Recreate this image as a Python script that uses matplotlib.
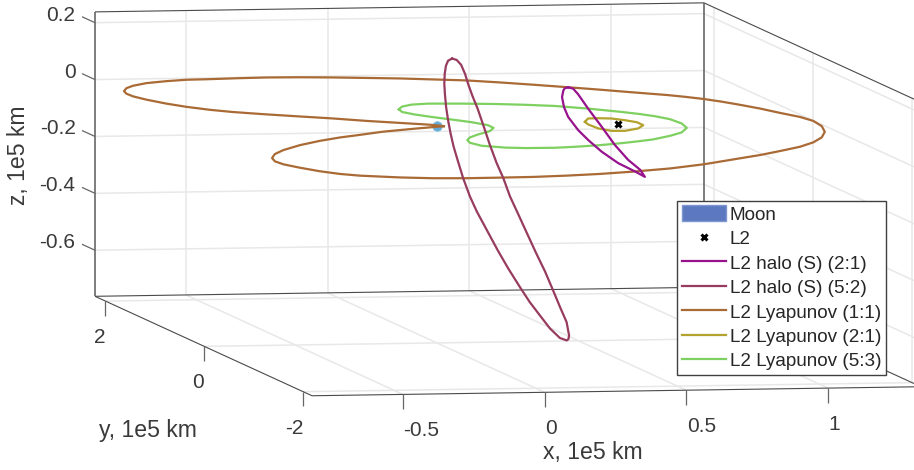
import matplotlib
matplotlib.use('Agg')
import matplotlib.pyplot as plt
from matplotlib.patches import Patch
from mpl_toolkits.mplot3d import proj3d

plt.rcParams['font.family'] = ['Liberation Sans', 'DejaVu Sans']

# all in 1e5 km, moon at the origin
moon = (0, 0, 0)
l2 = (0.64, 0, 0)

halo21_x = [.463,.456,.455,.459,.478,.505,.551,.588,.630,.675,.713,.734,.703,.640,.574,.533,.499,.481,.474,.463]
halo21_y = [0,.025,.05,.1,.17,.24,.3,.31,.28,.2,.08,0,-.08,-.2,-.31,-.28,-.2,-.1,-.04,0]
halo21_z = [0.13,0.125,0.115,0.088,0.047,0.006,-0.046,-0.082,-0.121,-0.156,-0.176,-0.189,-0.157,-0.112,-0.05,0.012,0.07,0.113,0.128,0.13]

halo52_x = [.054,.050,.051,.059,.068,.077,.090,.104,.118,.134,.153,.178,.207,.233,.271,.310,.342,.377,.401,.423,.441,.453,.458,.459,.449,.414,.370,.326,.291,.255,.221,.195,.169,.149,.131,.114,.099,.086,.076,.070,.068,.066,.061,.054]
halo52_y = [0,.06,.11,.18,.24,.28,.33,.37,.4,.43,.46,.49,.52,.53,.55,.54,.52,.48,.42,.34,.24,.11,0,-.03,-.1,-.25,-.37,-.47,-.52,-.54,-.55,-.53,-.51,-.49,-.46,-.42,-.37,-.33,-.28,-.23,-.18,-.11,-.05,0]
halo52_z = [.237,.225,.203,.169,.129,.091,.040,-.010,-.059,-.108,-.157,-.224,-.291,-.345,-.411,-.486,-.546,-.610,-.658,-.699,-.737,-.760,-.760,-.753,-.734,-.675,-.612,-.540,-.474,-.405,-.334,-.271,-.209,-.146,-.096,-.035,.032,.087,.129,.166,.197,.224,.236,.237]

# lyapunov orbits stay in the z=0 plane
lyap11_x = [0.024,-0.013,-0.102,-0.2,-0.298,-0.396,-0.499,-0.592,-0.654,-0.712,-0.756,-0.795,-0.816,-0.819,-0.808,-0.777,-0.737,-0.672,-0.589,-0.51,-0.426,-0.316,
            -0.218,-0.104,0.007,0.12,0.229,0.335,0.442,0.541,0.637,0.732,0.829,0.922,1.019,1.067,1.115,1.157,1.195,1.236,1.272,1.31,1.326,1.316,1.284,1.232,1.166,1.088,0.988,0.89,0.797,0.629,0.482,0.332,0.202,0.075,-0.05,-0.168,-0.288,-0.401,-0.508,-0.632,-0.687,-0.736,-0.778,-0.809,-0.816,-0.801,-0.762,-0.703,-0.609,-0.509,-0.415,-0.328,-0.225,-0.085,0.024]
lyap11_y = [-0.004,0.068,0.164,0.269,0.397,0.503,0.618,0.736,0.845,0.987,1.136,1.318,1.467,1.586,1.698,1.824,1.922,2.025,2.097,2.144,2.155,2.179,2.191,2.179,2.15,2.107,2.065,2.002,1.938,1.832,1.714,1.591,1.459,1.323,1.187,1.099,0.993,0.867,0.724,0.55,0.35,0.167,-0.011,-0.242,-0.486,-0.723,-0.93,-1.109,-1.279,-1.437,-1.565,-1.797,-1.955,-2.067,-2.144,-2.196,-2.23,-2.239,-2.243,-2.222,-2.168,-2.066,-1.981,-1.853,-1.688,-1.533,-1.4,-1.257,-1.089,-0.924,-0.722,-0.552,-0.42,-0.322,-0.2,-0.085,-0.004]

lyap21_x = [.538,.574,.611,.654,.687,.713,.713,.671,.608,.562,.535,.530,.538]
lyap21_y = [.090,.233,.239,.218,.137,.044,-.087,-.225,-.318,-.310,-.199,-.023,.090]

lyap53_x = [-.004,.027,.074,.138,.252,.363,.460,.554,.647,.738,.784,.820,.849,.857,.842,.790,.725,.641,.583,.527,.478,.409,.319,.243,.141,.074,.045,.007,-.011,0,.029,.079,.144,.181,.182,.149,.100,.051,.012,-.013,-.004]
lyap53_y = [.747,.860,.939,.971,.950,.913,.860,.790,.658,.492,.391,.288,.151,-.039,-.229,-.422,-.560,-.702,-.766,-.821,-.865,-.918,-.968,-.997,-.992,-.958,-.917,-.866,-.731,-.615,-.502,-.379,-.246,-.108,.011,.148,.276,.399,.512,.630,.747]

x_ticks = [-0.5, 0, 0.5, 1]
y_ticks = [-2, 0, 2]
z_ticks = [-0.6, -0.4, -0.2, 0, 0.2]
x_lim = (-0.821, 1.328)
y_lim = (-2.18, 2.21)
z_lim = (-0.762, 0.238)

TEXT = '#3a3a3a'
EDGE = '#4a4a4a'
GRID = '#e8e8e8'
LW = 1.6

fig = plt.figure(figsize=(9.14, 4.70), dpi=100)
ax = fig.add_subplot(projection='3d', computed_zorder=False, proj_type='ortho')
ax.set_axis_off()
ax.view_init(elev=4.73, azim=259.8)
ax.set_box_aspect((619, 1226, 285.5))
ax.set_xlim(*x_lim)
ax.set_ylim(*y_lim)
ax.set_zlim(*z_lim)
x0, x1 = x_lim
y0, y1 = y_lim
z0, z1 = z_lim


def to_pixels(x, y, z):
    xs, ys, _ = proj3d.proj_transform(x, y, z, ax.get_proj())
    return ax.transData.transform((xs, ys))


# fit the box onto the same pixels as the picture (front right corner is cut off)
size = 800.0
ax.set_position([0, 0, size / 914, size / 470])
ax.apply_aspect()
a = to_pixels(x0, y1, z0)
b = to_pixels(x1, y0, z0)
size *= (921 - 95) / (b[0] - a[0])
ax.set_position([0, 0, size / 914, size / 470])
ax.apply_aspect()
a = to_pixels(x0, y1, z0)
ax.set_position([(95 - a[0]) / 914, (470 - 296.3 - a[1]) / 470, size / 914, size / 470])
ax.apply_aspect()


def seg(xs, ys, zs, color=GRID, lw=1.1, z=1):
    ax.plot(xs, ys, zs, color=color, lw=lw, zorder=z, solid_capstyle='butt')


def label_at(x, y, z, s, dx, dy, ha):
    # dx, dy are pixels away from the projected point (dy downwards)
    p = to_pixels(x, y, z)
    fig.text((p[0] + dx) / 914, (p[1] - dy) / 470, s, ha=ha, va='center', fontsize=15, color=TEXT)


# grid on the three back walls
for t in x_ticks:
    seg([t, t], [y1, y1], [z0, z1])
    seg([t, t], [y0, y1], [z0, z0])
for t in y_ticks:
    seg([x0, x1], [t, t], [z0, z0])
    seg([x1, x1], [t, t], [z0, z1])
for t in z_ticks:
    seg([x0, x1], [y1, y1], [t, t])
    seg([x1, x1], [y0, y1], [t, t])

# box edges
seg([x0, x1], [y1, y1], [z1, z1], EDGE, 0.8, 2)
seg([x0, x1], [y1, y1], [z0, z0], EDGE, 0.8, 2)
seg([x0, x1], [y0, y0], [z0, z0], EDGE, 0.8, 2)
seg([x0, x0], [y0, y1], [z0, z0], EDGE, 0.8, 2)
seg([x1, x1], [y0, y1], [z1, z1], EDGE, 0.8, 2)
seg([x1, x1], [y0, y1], [z0, z0], EDGE, 0.8, 2)
seg([x0, x0], [y1, y1], [z0, z1], '#5a5a5a', 1.1, 2)
seg([x1, x1], [y1, y1], [z0, z1], '#5a5a5a', 1.1, 2)

# ticks and their labels
for t in x_ticks:
    seg([t, t], [y0, y0], [z0, z0 - 0.052], '#666666', 0.9, 2)
    label_at(t, y0, z0, f'{t:g}', 0.5, 36.5, 'left')
for t in y_ticks:
    seg([x0, x0], [t, t], [z0, z0 - 0.052], '#666666', 0.9, 2)
    label_at(x0, t, z0, f'{t:g}', 0, 36.5, 'right')
for t in z_ticks:
    seg([x0, x0], [y1, y1 + 0.263], [t, t], '#666666', 0.9, 2)
    label_at(x0, y1, t, f'{t:g}', -19.5, -7.5, 'right')

fig.text(18.5 / 914, 1 - 155 / 470, 'z, 1e5 km', rotation=90, ha='center', va='center', fontsize=16.6, color=TEXT)
fig.text(148 / 914, 1 - 431 / 470, 'y, 1e5 km', ha='center', va='center', fontsize=16.6, color=TEXT)
fig.text(592.7 / 914, 1 - 453 / 470, 'x, 1e5 km', ha='center', va='center', fontsize=16.6, color=TEXT)

# data
ax.plot([moon[0]], [moon[1]], [moon[2]], 'o', ms=7, color='#62abd6', mec='#8cc4e0', mew=0.5, zorder=3)
h_l2, = ax.plot([l2[0]], [l2[1]], [l2[2]], 'x', ms=4.5, mew=2.2, color='black', zorder=4, label='L2')
zeros11 = [0] * len(lyap11_x)
zeros21 = [0] * len(lyap21_x)
zeros53 = [0] * len(lyap53_x)
h1, = ax.plot(halo21_x, halo21_y, halo21_z, color='#97128c', lw=LW, zorder=3.5, label='L2 halo (S) (2:1)')
h2, = ax.plot(halo52_x, halo52_y, halo52_z, color='#973c5e', lw=LW, zorder=3.5, label='L2 halo (S) (5:2)')
h3, = ax.plot(lyap11_x, lyap11_y, zeros11, color='#a96a35', lw=LW, zorder=3.4, label='L2 Lyapunov (1:1)')
h4, = ax.plot(lyap21_x, lyap21_y, zeros21, color='#b3a22d', lw=LW, zorder=3.4, label='L2 Lyapunov (2:1)')
h5, = ax.plot(lyap53_x, lyap53_y, zeros53, color='#7ed060', lw=LW, zorder=3.3, label='L2 Lyapunov (5:3)')

moon_patch = Patch(facecolor='#5b78c0', edgecolor='#7f97d0', label='Moon')
leg = ax.legend(handles=[moon_patch, h_l2, h1, h2, h3, h4, h5], loc='upper left',
                bbox_to_anchor=(677.3 / 914, 1 - 201 / 470), bbox_transform=fig.transFigure,
                borderaxespad=0, borderpad=0.23, labelspacing=0.323, handlelength=2.33,
                handleheight=0.9, handletextpad=0.23, fontsize=13.6, fancybox=False,
                framealpha=1, edgecolor='#404040', labelcolor='#262626')
leg.get_frame().set_linewidth(1.0)
leg.set_zorder(10)

fig.savefig('out.png', dpi=100)
